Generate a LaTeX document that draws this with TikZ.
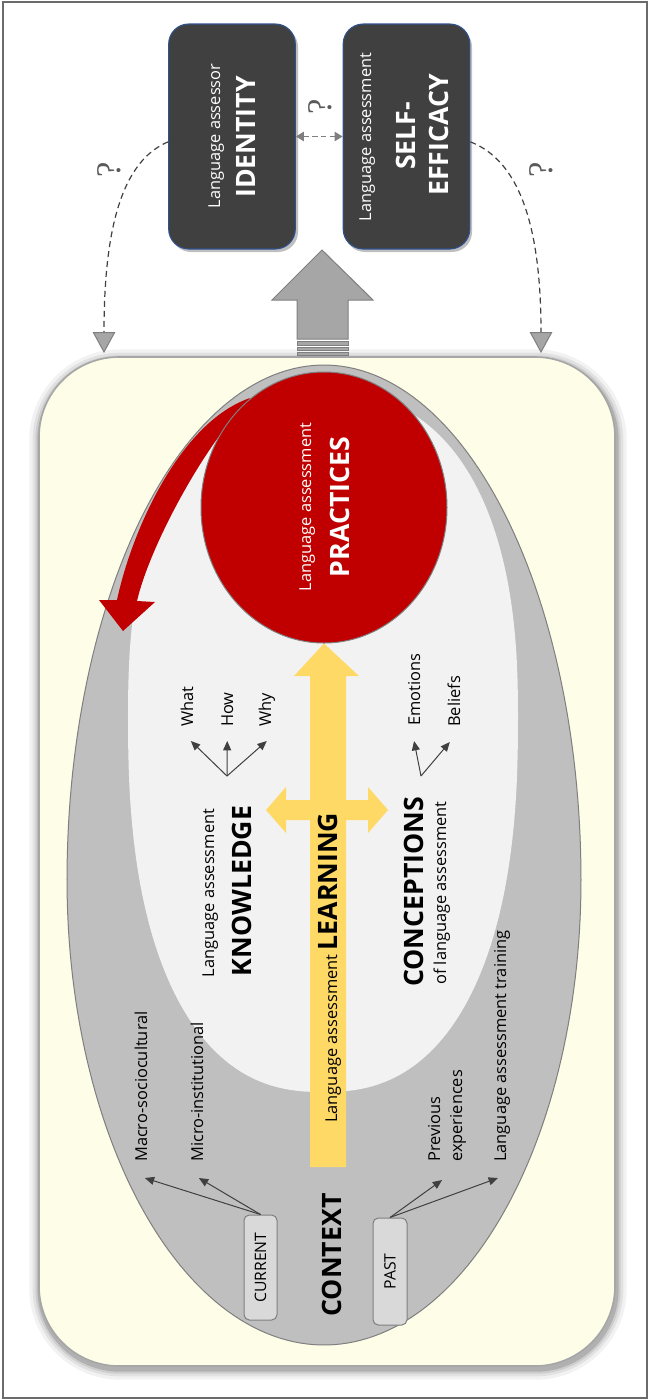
\documentclass[tikz,border=0pt]{standalone}
\usepackage{fontspec}
\setmainfont{Open Sans}
\newfontfamily\qfont{Liberation Serif}
\usetikzlibrary{arrows.meta,calc,shapes.geometric}
\definecolor{dkbox}{HTML}{404040}
\definecolor{bxborder}{HTML}{2F528F}
\definecolor{panelfill}{HTML}{FDFDE8}
\definecolor{ggray}{HTML}{BFBFBF}
\definecolor{lgray}{HTML}{F2F2F2}
\definecolor{redc}{HTML}{C00000}
\definecolor{yel}{HTML}{FFD966}
\definecolor{boxg}{HTML}{D9D9D9}
\definecolor{edge}{HTML}{7F7F7F}
\definecolor{dk}{HTML}{404040}
\definecolor{trif}{HTML}{A6A6A6}
\definecolor{framec}{HTML}{6B6B6B}
\definecolor{qcol}{HTML}{5A5A5A}
\newcommand\txtS{\fontsize{12.3pt}{15pt}\selectfont}
\newcommand\txtB{\fontsize{20pt}{24pt}\selectfont\bfseries}
\newcommand\txtC{\fontsize{11.8pt}{14pt}\selectfont}
\begin{document}
\begin{tikzpicture}[x=0.75pt,y=-0.75pt,
  lbl/.style={rotate=90,inner sep=0pt,font=\txtS,text=black},
  bigt/.style={rotate=90,inner sep=0pt,font=\txtB,text=black},
  darkbox/.style={draw=bxborder,fill=dkbox,line width=0.8pt,rounded corners=15pt,minimum width=95pt,minimum height=168.75pt,inner sep=0pt},
  ctxbox/.style={rotate=90,draw=edge,fill=boxg,line width=0.75pt,rounded corners=4pt,font=\txtC,inner sep=0pt},
  thinarrow/.style={draw=dk,line width=0.75pt,-{Triangle[length=7pt,width=6pt,fill=dk]}},
  curvedash/.style={draw=dk,line width=0.9pt,dash pattern=on 4.5pt off 3pt,-{Triangle[length=15.75pt,width=17pt,fill=trif,color=edge,line width=0.75pt]}},
  qdash/.style={draw=edge,line width=1.1pt,dash pattern=on 4pt off 2.5pt,{Triangle[length=6pt,width=7pt]}-{Triangle[length=6pt,width=7pt]}},
  qmark/.style={rotate=90,inner sep=0pt,font=\qfont\fontsize{26pt}{28pt}\selectfont,text=qcol},
  blockg/.style={fill=trif,draw=edge,line width=0.75pt}]
\useasboundingbox (0,0) rectangle (650,1400);
% frame
\draw[framec,line width=1pt] (3,2) rectangle (647,1398);

% ---- top boxes
\fill[black,opacity=0.25,rounded corners=15pt] (171,27) rectangle (298,252);
\fill[black,opacity=0.25,rounded corners=15pt] (345,27) rectangle (472,252);
\node[darkbox] (idbox) at (232,136.5) {};
\node[darkbox] (sebox) at (406.5,136.5) {};
\node[lbl,text=white,anchor=base] (idA) at (220,136) {Language assessor};
\node[bigt,text=white,anchor=base] (idB) at (255,137) {IDENTITY};
\node[lbl,text=white,anchor=base] (seA) at (371,137) {Language assessment};
\node[bigt,text=white,anchor=base] (seB) at (415,136) {SELF-};
\node[bigt,text=white,anchor=base] (seC) at (448,135) {EFFICACY};

\draw[qdash] (idbox.east) -- (sebox.west);
\node[qmark] (q1) at (320,107) {?};

% ---- panel
\foreach \w/\o in {16/0.05,11/0.07,7/0.09,4/0.14} {
  \draw[black,opacity=\o,line width=\w pt,rounded corners=60pt] (40,360) rectangle (616,1369);
}
\draw[fill=panelfill,draw=trif,line width=1.2pt,rounded corners=60pt] (39,357) rectangle (615,1366);

\coordinate (ltip) at (104,353);
\coordinate (rtip) at (541,353);
\draw[curvedash] ([yshift=-4pt]idbox.west) .. controls (125,160) and (104,220) .. (ltip);
\draw[curvedash] ([yshift=-4pt]sebox.east) .. controls (517,160) and (541,220) .. (rtip);
\node[qmark] (q2) at (109,170) {?};
\node[qmark] (q3) at (541,170) {?};

% ---- big gray arrow
\draw[blockg] (297,339) -- (297,300) -- (272,300) -- (322,250) -- (373,300) -- (348,300) -- (348,339) -- cycle;
\draw[blockg] (297,341) rectangle (348,345);
\draw[blockg] (297,347) rectangle (348,350);
\draw[blockg] (297,352) rectangle (348,355);

% ---- gray outer shape
\filldraw[fill=ggray,draw=edge,line width=0.75pt]
  plot[domain=0:180,samples=120,variable=\t] ({324+257*cos(\t)},{880-515*sin(\t)})
  -- plot[domain=180:360,samples=120,variable=\t] ({324+257*cos(\t)},{880-465*sin(\t)}) -- cycle;
% ---- light inner shape
\fill[lgray]
  plot[domain=0:180,samples=120,variable=\t] ({323+195*cos(\t)*pow(abs(cos(\t))+0.001,-0.167)},{717-325*pow(abs(sin(\t))+0.0001,0.833)})
  -- plot[domain=180:360,samples=120,variable=\t] ({323+195*cos(\t)*pow(abs(cos(\t))+0.001,-0.167)},{717+375*pow(abs(sin(\t))+0.0001,0.833)}) -- cycle;

% ---- red curved arrow and practices
\fill[redc] (250,398) .. controls (180,422) and (132,530) .. (117,600) -- (99,600) -- (123,631) -- (155,602) -- (137,601) .. controls (150,545) and (205,445) .. (245,405) -- cycle;
\node[ellipse,fill=redc,draw=edge,line width=0.75pt,minimum width=184.5pt,minimum height=203.25pt,inner sep=0pt] (prac) at (324,507.5) {};
\node[lbl,text=white,anchor=base] (prA) at (311,507) {Language assessment};
\node[bigt,text=white,anchor=base] (prB) at (349,507) {PRACTICES};

% ---- yellow arrows
\fill[yel] (310,1167) -- (310,676) -- (294,676) -- (prac.south) -- (359,676) -- (346,676) -- (346,1167) -- cycle;
\fill[yel] (266,810) -- (286,787) -- (286,800) -- (368,800) -- (368,787) -- (388,810) -- (368,833) -- (368,820) -- (286,820) -- (286,833) -- cycle;
\node[lbl,anchor=base west] (learn) at (337,1123) {Language assessment {\txtB LEARNING}};

% ---- knowledge
\node[lbl,anchor=base] (knA) at (214,893) {Language assessment};
\node[bigt,anchor=base] (knB) at (251,891) {KNOWLEDGE};
\node[lbl,anchor=base west] (what) at (193,727) {What};
\node[lbl,anchor=base west] (how) at (233,727) {How};
\node[lbl,anchor=base west] (why) at (271,727) {Why};
\coordinate (kfork) at (227,776);
\draw[thinarrow] (kfork) -- ($(what.west)+(4,14)$);
\draw[thinarrow] (kfork) -- ($(how.west)+(0,14)$);
\draw[thinarrow] (kfork) -- ($(why.west)+(0,14)$);

% ---- conceptions
\node[bigt,anchor=base] (coA) at (423,892) {CONCEPTIONS};
\node[lbl,anchor=base] (coB) at (446,893) {of language assessment};
\node[lbl,anchor=base west] (emo) at (420,726) {Emotions};
\node[lbl,anchor=base west] (bel) at (460,727) {Beliefs};
\coordinate (cfork) at (421,776);
\draw[thinarrow] (cfork) -- ($(emo.west)+(0,15)$);
\draw[thinarrow] (cfork) -- ($(bel.west)+(-4,15)$);

% ---- context
\node[ctxbox,minimum width=78.75pt,minimum height=24.75pt] (cur) at (260.5,1267.5) {CURRENT};
\node[ctxbox,minimum width=80.25pt,minimum height=25.5pt] (past) at (390,1271.5) {PAST};
\node[bigt,anchor=base] (ctx) at (341,1255) {CONTEXT};
\node[lbl,anchor=base west] (macro) at (147,1162) {Macro-sociocultural};
\node[lbl,anchor=base west] (micro) at (203,1162) {Micro-institutional};
\node[lbl,anchor=base west] (prev) at (440,1162) {Previous};
\node[lbl,anchor=base west] (exper) at (462,1162) {experiences};
\node[lbl,anchor=base west] (train) at (506,1162) {Language assessment training};
\draw[thinarrow] (cur.east) -- ($(macro.west)+(4,16)$);
\draw[thinarrow] (cur.east) -- ($(micro.west)+(2,16)$);
\draw[thinarrow] (past.east) -- ($(prev.west)+(8,18)$);
\draw[thinarrow] (past.east) -- ($(train.west)+(-4,16)$);
\end{tikzpicture}
\end{document}
